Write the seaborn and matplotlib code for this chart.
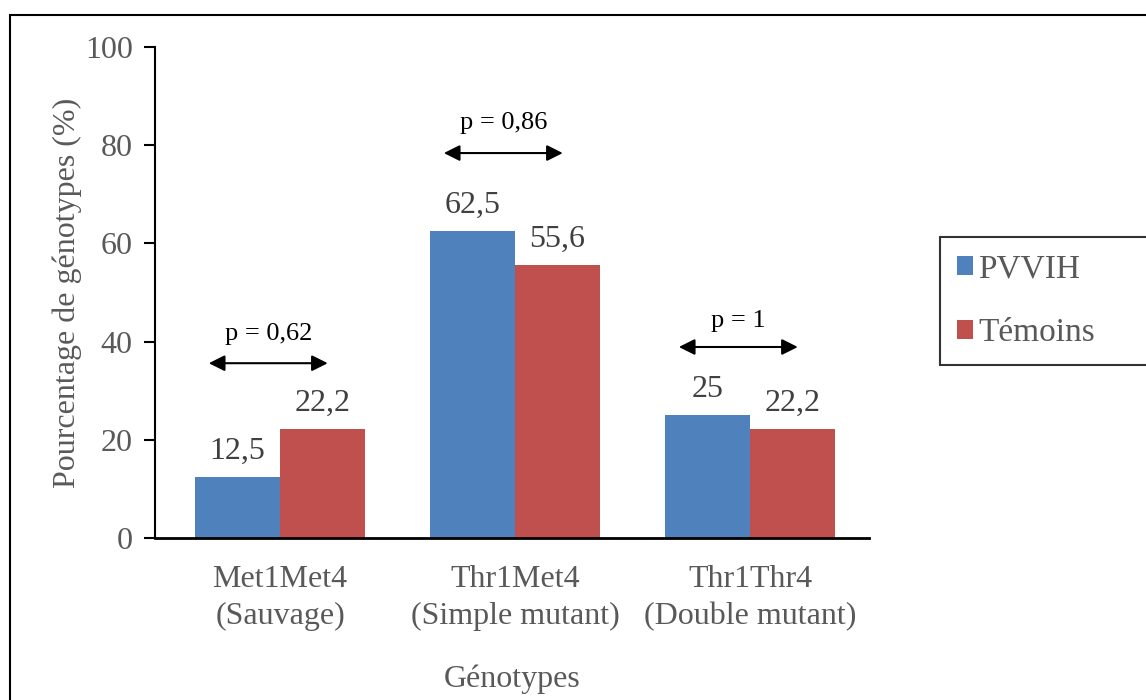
import pandas as pd
import matplotlib.pyplot as plt
import seaborn as sns
from matplotlib.patches import Rectangle

# Data
genotypes = ['Met1Met4\n(Sauvage)', 'Thr1Met4\n(Simple mutant)', 'Thr1Thr4\n(Double mutant)']
pvvih = [12.5, 62.5, 25]
temoins = [22.2, 55.6, 22.2]
groups = ['PVVIH', 'Témoins']
p_labels = ['p = 0,62', 'p = 0,86', 'p = 1']
p_arrow_y = [35.6, 78.4, 38.9]
p_label_y = [41.6, 84.6, 44.2]

df = pd.DataFrame({
    'Génotypes': genotypes * 2,
    'Pourcentage': pvvih + temoins,
    'Groupe': [groups[0]] * 3 + [groups[1]] * 3,
})

sns.set_style('white')
plt.rcParams['font.family'] = ['Liberation Serif', 'DejaVu Serif']

fig = plt.figure(figsize=(11.46, 7), dpi=100)
ax = fig.add_axes([155 / 1146, 162 / 700, 714 / 1146, 491 / 700])

sns.barplot(data=df, x='Génotypes', y='Pourcentage', hue='Groupe',
            palette=['#4F81BD', '#C0504D'], width=0.723, saturation=1,
            edgecolor='none', ax=ax)

# value labels above bars
for container in ax.containers:
    labels = [('%.1f' % v).replace('.0', '').replace('.', ',') for v in container.datavalues]
    ax.bar_label(container, labels=labels, padding=8, fontsize=23, color='#404040')

# p-value arrows
for i, (lab, ya, yl) in enumerate(zip(p_labels, p_arrow_y, p_label_y)):
    off = -0.05
    ax.annotate('', xy=(i + off - 0.253, ya), xytext=(i + off + 0.253, ya),
                arrowprops=dict(arrowstyle='<|-|>', color='black', lw=1.5,
                                mutation_scale=24, shrinkA=0, shrinkB=0))
    ax.text(i + off, yl, lab, ha='center', va='center', fontsize=19, color='black')

ax.set_ylim(0, 100)
ax.set_xlim(-0.532, 2.506)
ax.set_yticks([0, 20, 40, 60, 80, 100])
ax.tick_params(axis='y', labelsize=23, labelcolor='#595959', direction='out',
               length=8, width=1.5, color='black', left=True, pad=8)
ax.tick_params(axis='x', labelsize=23, labelcolor='#595959', bottom=False, pad=16)
for lbl in ax.get_xticklabels():
    lbl.set_linespacing(1.35)

ax.set_ylabel('Pourcentage de génotypes (%)', fontsize=23, color='#595959', labelpad=2)
ax.set_xlabel('Génotypes', fontsize=23, color='#595959', labelpad=24)

sns.despine(ax=ax)
ax.spines['left'].set_linewidth(1.5)
ax.spines['bottom'].set_linewidth(2)
ax.spines['left'].set_color('black')
ax.spines['bottom'].set_color('black')

leg = ax.legend(loc='upper left', bbox_to_anchor=(940 / 1146, 463 / 700, 230 / 1146, 0),
                bbox_transform=fig.transFigure, mode='expand', fontsize=24, frameon=True,
                fancybox=False, edgecolor='black', handlelength=0.5,
                handleheight=0.5, handletextpad=0.15, labelspacing=1.0,
                borderpad=0.5, borderaxespad=0)
leg.get_frame().set_linewidth(1.5)
for t in leg.get_texts():
    t.set_color('#595959')

# outer border
fig.patches.append(Rectangle((10 / 1146, -0.05), 1.1, 0.05 + 685 / 700,
                             transform=fig.transFigure, fill=False,
                             edgecolor='black', linewidth=1.5))

fig.savefig('out.png', dpi=100)
